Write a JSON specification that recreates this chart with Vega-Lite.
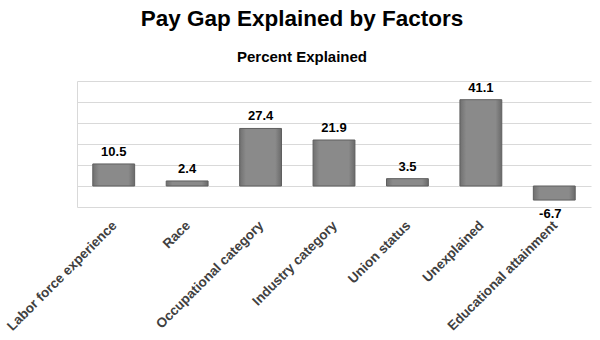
{
  "$schema": "https://vega.github.io/schema/vega-lite/v6.json",
  "autosize": {"type": "none"},
  "width": 514,
  "height": 126,
  "padding": {"left": 77, "top": 81, "right": 9, "bottom": 133},
  "background": "white",
  "title": {
    "text": "Pay Gap Explained by Factors",
    "subtitle": "Percent Explained",
    "anchor": "middle",
    "frame": "group",
    "dx": -32,
    "offset": 16,
    "font": "Liberation Sans",
    "fontSize": 22.5,
    "fontWeight": "bold",
    "color": "#000000",
    "subtitleFont": "Liberation Sans",
    "subtitleFontSize": 15,
    "subtitleFontWeight": "bold",
    "subtitleColor": "#000000",
    "subtitlePadding": 20
  },
  "config": {
    "view": {"stroke": null},
    "font": "Liberation Sans"
  },
  "data": {
    "values": [
      {"factor": "Labor force experience", "value": 10.5},
      {"factor": "Race", "value": 2.4},
      {"factor": "Occupational category", "value": 27.4},
      {"factor": "Industry category", "value": 21.9},
      {"factor": "Union status", "value": 3.5},
      {"factor": "Unexplained", "value": 41.1},
      {"factor": "Educational attainment", "value": -6.7}
    ]
  },
  "encoding": {
    "x": {
      "field": "factor",
      "type": "nominal",
      "sort": null,
      "scale": {"paddingInner": 0.43, "paddingOuter": 0.215},
      "axis": {
        "title": null,
        "labelAngle": -45,
        "labelAlign": "right",
        "labelBaseline": "middle",
        "labelFont": "Liberation Sans",
        "labelFontSize": 13.5,
        "labelFontWeight": "bold",
        "labelColor": "#404040",
        "labelPadding": 16,
        "labelOffset": 1,
        "ticks": false,
        "domain": false,
        "labelLimit": 300
      }
    },
    "y": {
      "field": "value",
      "type": "quantitative",
      "scale": {"domain": [-10, 50], "nice": false, "zero": false},
      "axis": {
        "title": null,
        "labels": false,
        "ticks": false,
        "values": [-10, 0, 10, 20, 30, 40, 50],
        "grid": true,
        "gridColor": "#d9d9d9",
        "gridWidth": 1,
        "domain": true,
        "domainColor": "#d9d9d9"
      }
    }
  },
  "layer": [
    {
      "mark": {
        "type": "bar",
        "stroke": "#5f5f5f",
        "strokeWidth": 1,
        "color": {
          "gradient": "linear",
          "x1": 0, "y1": 0, "x2": 1, "y2": 0,
          "stops": [
            {"offset": 0, "color": "#707070"},
            {"offset": 0.15, "color": "#8a8a8a"},
            {"offset": 0.85, "color": "#8a8a8a"},
            {"offset": 1, "color": "#6a6a6a"}
          ]
        }
      },
      "encoding": {"y2": {"datum": 0}}
    },
    {
      "transform": [{"filter": "datum.value >= 0"}],
      "mark": {
        "type": "text",
        "baseline": "alphabetic",
        "dy": -8,
        "font": "Liberation Sans",
        "fontSize": 13,
        "fontWeight": "bold",
        "color": "#000000"
      },
      "encoding": {"text": {"field": "value", "type": "nominal"}}
    },
    {
      "transform": [{"filter": "datum.value < 0"}],
      "mark": {
        "type": "text",
        "baseline": "top",
        "dy": 8,
        "dx": -4,
        "font": "Liberation Sans",
        "fontSize": 13,
        "fontWeight": "bold",
        "color": "#000000"
      },
      "encoding": {"text": {"field": "value", "type": "nominal"}}
    }
  ]
}
